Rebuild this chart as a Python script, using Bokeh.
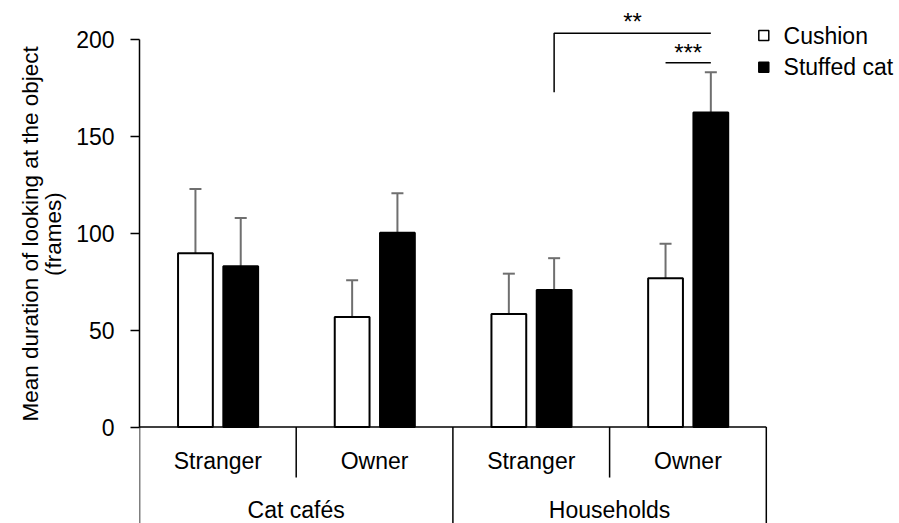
import numpy as np
from bokeh.plotting import figure
from bokeh.models import ColumnDataSource, Range1d, FixedTicker, Whisker, TeeHead, LinearAxis, Title
from bokeh.core.properties import value
from bokeh.embed import file_html
from bokeh.resources import INLINE

# ---- data ----
settings = ["Cat cafés", "Households"]
persons = ["Stranger", "Owner"]
series = ["Cushion", "Stuffed cat"]
cushion_mean = [89.8, 56.8, 58.4, 76.8]
cushion_se = [33.1, 19.0, 20.8, 17.9]
stuffed_mean = [83.0, 100.3, 70.8, 162.4]
stuffed_se = [25.0, 20.5, 16.4, 20.9]
y_ticks = [0, 50, 100, 150, 200]
y_label_lines = ["Mean duration of looking at the object", "(frames)"]
sig_labels = ["**", "***"]
sig_heights = [203.4, 188.1]      # bracket heights (data units)
sig_drop = 172.9                   # lower end of the long bracket leg

# ---- layout ----
FONT = "Liberation Sans"
W, H = 899, 523
LEFT = 139
cat_px = 156.7
zero_px = 426.5
px_per_unit = 1.936
x_end = (W - LEFT) / cat_px
y_top = zero_px / px_per_unit
y_bot = -(H - zero_px) / px_per_unit

p = figure(width=W, height=H, output_backend="svg", toolbar_location=None,
           x_range=Range1d(0, x_end), y_range=Range1d(y_bot, y_top),
           x_axis_location=None, y_axis_location=None,
           min_border=0, min_border_left=LEFT)
p.outline_line_color = None
p.xgrid.visible = False
p.ygrid.visible = False
p.background_fill_color = "white"
p.border_fill_color = "white"

n = len(cushion_mean)
idx = np.arange(n)
off_c, off_s, bw = 0.357, 0.646, 0.222
cm = np.array(cushion_mean); cs = np.array(cushion_se)
sm = np.array(stuffed_mean); ss = np.array(stuffed_se)
src = ColumnDataSource(dict(xc=idx + off_c, xs=idx + off_s, cm=cm, sm=sm,
                            cu=cm + cs, cl=cm - cs, su=sm + ss, sl=sm - ss))

p.vbar(x="xc", top="cm", bottom=0, width=bw, fill_color="white",
       line_color="black", line_width=2, source=src)
p.vbar(x="xs", top="sm", bottom=0, width=bw, fill_color="black",
       line_color="black", line_width=2, source=src)

EC = "#6f6f6f"
for base, up, lo in [("xc", "cu", "cl"), ("xs", "su", "sl")]:
    w = Whisker(source=src, base=base, upper=up, lower=lo, dimension="height",
                line_color=EC, line_width=2,
                upper_head=TeeHead(size=12, line_color=EC, line_width=2),
                lower_head=TeeHead(size=12, line_color=EC, line_width=2))
    p.add_layout(w)

# ---- category axis (drawn) ----
p.segment(x0=[0], y0=[0], x1=[n], y1=[0], line_color="black", line_width=1.5)
short_x = [i * len(persons) + 1 for i in range(len(settings))]
long_x = [i * len(persons) for i in range(len(settings) + 1)]
p.segment(x0=short_x, y0=[0] * len(short_x), x1=short_x, y1=[-26.1] * len(short_x),
          line_color="black", line_width=1.5)
p.segment(x0=long_x, y0=[0] * len(long_x), x1=long_x, y1=[y_bot] * len(long_x),
          line_color="black", line_width=1.5)

p.text(x=idx + 0.5, y=[-17.8] * n, text=persons * len(settings),
       text_font=value(FONT), text_font_size="23px", text_align="center",
       text_baseline="middle", text_color="black")
p.text(x=[i * len(persons) + len(persons) / 2 for i in range(len(settings))],
       y=[-43.1] * len(settings), text=settings,
       text_font=value(FONT), text_font_size="23px", text_align="center",
       text_baseline="middle", text_color="black")

# ---- significance ----
xs2, xs3, xc3 = idx[2] + off_s, idx[3] + off_s, idx[3] + off_c
p.line(x=[xs2, xs2, xs3], y=[sig_drop, sig_heights[0], sig_heights[0]],
       line_color="black", line_width=1.5)
p.line(x=[xc3, xs3], y=[sig_heights[1], sig_heights[1]],
       line_color="black", line_width=1.5)
p.text(x=[(xs2 + xs3) / 2, (xc3 + xs3) / 2], y=[sig_heights[0] + 6.3, sig_heights[1] + 5.4],
       text=sig_labels, text_font=value(FONT), text_font_size="24px",
       text_align="center", text_baseline="alphabetic", text_color="black")

# ---- legend (drawn) ----
leg_y = [202.2, 185.8]
p.scatter(x=[3.984] * 2, y=leg_y, marker="square", size=10,
          fill_color=["white", "black"], line_color="black", line_width=1.5)
p.text(x=[4.110] * 2, y=leg_y, text=series, text_font=value(FONT),
       text_font_size="23px", text_align="left", text_baseline="middle",
       text_color="black")

# ---- y axis ----
yax = LinearAxis(ticker=FixedTicker(ticks=y_ticks), bounds=(0, 200))
yax.major_tick_out = 9
yax.major_tick_in = 0
yax.minor_tick_out = 0
yax.minor_tick_in = 0
yax.axis_line_width = 1.5
yax.axis_line_color = "black"
yax.major_tick_line_width = 1.5
yax.major_tick_line_color = "black"
yax.major_label_standoff = 16
yax.major_label_text_font = FONT
yax.major_label_text_font_size = "23px"
yax.major_label_text_color = "black"
# blank spacer label to keep the title clear of the tick labels
yax.axis_label = " "
yax.axis_label_text_font_size = "1px"
yax.axis_label_standoff = 5
p.add_layout(yax, "left")

# y-axis title: two rotated lines (inner line added first)
offsets = [247.5, 102.0]
for txt, off in zip(reversed(y_label_lines), offsets):
    t = Title(text=txt, align="left", offset=off, standoff=-4.5,
              text_font=FONT, text_font_size="22.5px", text_font_style="normal",
              text_color="black", vertical_align="middle")
    p.add_layout(t, "left")

open("out.html", "w").write(file_html(p, INLINE))
